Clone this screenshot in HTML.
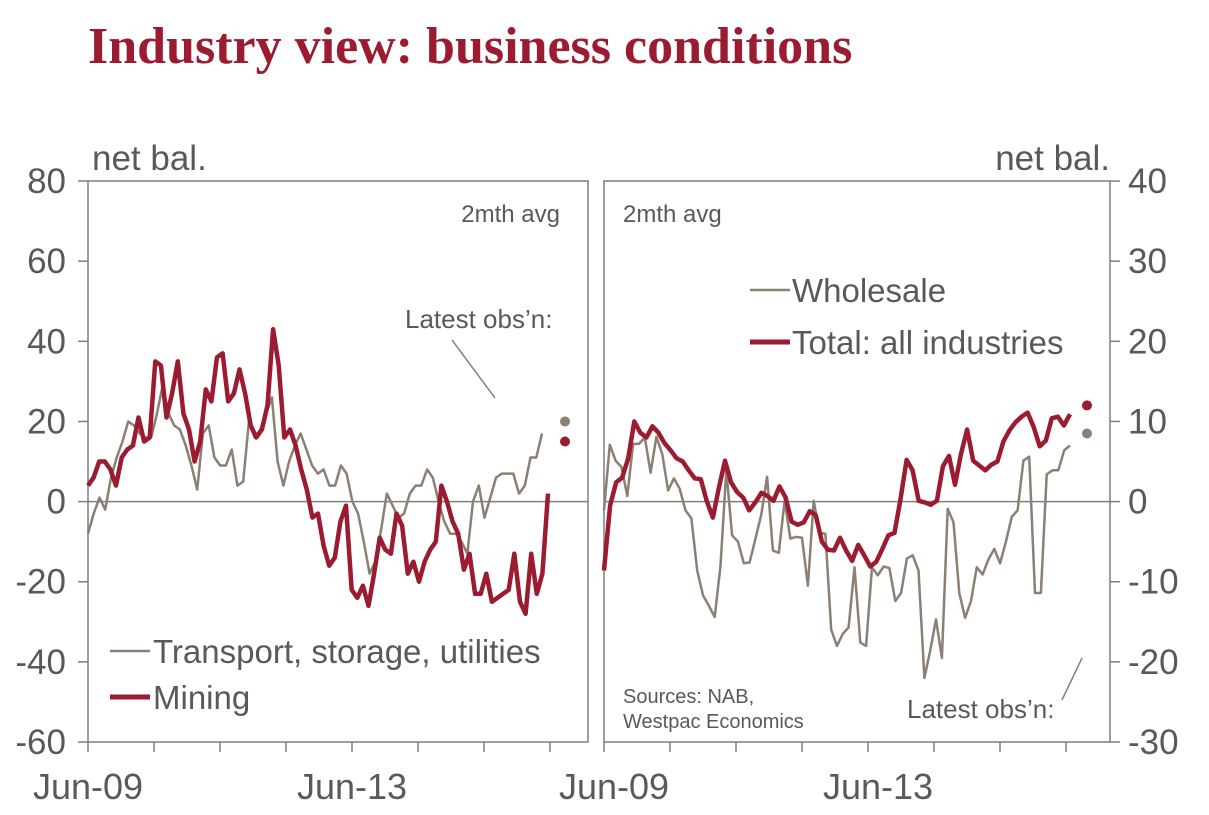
<!DOCTYPE html>
<html><head><meta charset="utf-8"><style>
body{margin:0;background:#fff;width:1209px;height:810px;overflow:hidden}
svg text{font-family:"Liberation Sans",sans-serif;fill:#595959}
</style></head><body>
<svg id="c" width="1209" height="810">
<text x="88" y="63" style="font-family:'Liberation Serif',serif;font-weight:bold;font-size:52px;fill:#9b1b30">Industry view: business conditions</text>
<text x="92" y="170" font-size="35">net bal.</text>
<text x="1110" y="170" font-size="35" text-anchor="end">net bal.</text>
<rect x="88" y="181" width="500" height="561" fill="none" stroke="#7f7f7f" stroke-width="1.5"/>
<rect x="604" y="181" width="506" height="561" fill="none" stroke="#7f7f7f" stroke-width="1.5"/>
<line x1="88" y1="501.6" x2="588" y2="501.6" stroke="#7f7f7f" stroke-width="1.5"/>
<line x1="604" y1="501.6" x2="1110" y2="501.6" stroke="#7f7f7f" stroke-width="1.5"/>
<text x="560" y="222" font-size="24" text-anchor="end">2mth avg</text>
<text x="623" y="222" font-size="24">2mth avg</text>
<text x="405" y="328" font-size="26">Latest obs’n:</text>
<line x1="452" y1="340" x2="495" y2="398" stroke="#8c7f73" stroke-width="1.5"/>
<text x="907" y="718" font-size="26">Latest obs’n:</text>
<line x1="1082" y1="658" x2="1062" y2="700" stroke="#8c7f73" stroke-width="1.5"/>
<text x="623" y="703" font-size="20">Sources: NAB,</text>
<text x="623" y="728" font-size="20">Westpac Economics</text>
<g>
<line x1="110" y1="651" x2="150" y2="651" stroke="#8c7f73" stroke-width="2.5"/>
<text x="153" y="663" font-size="33">Transport, storage, utilities</text>
<line x1="110" y1="697" x2="150" y2="697" stroke="#9b1b30" stroke-width="5"/>
<text x="153" y="709" font-size="33">Mining</text>
</g>
<g>
<line x1="750" y1="290" x2="790" y2="290" stroke="#8c7f73" stroke-width="2.5"/>
<text x="792" y="302" font-size="33">Wholesale</text>
<line x1="750" y1="342" x2="790" y2="342" stroke="#9b1b30" stroke-width="5"/>
<text x="792" y="354" font-size="33">Total: all industries</text>
</g>
<g id="axes"></g><g id="series"></g>
</svg>
<script>
const leftTicks=[80,60,40,20,0,-20,-40,-60];
const rightTicks=[40,30,20,10,0,-10,-20,-30];
const xLabels=["Jun-09","Jun-13"];
const mining=[4,6,10,10,8,4,11,13,14,21,15,16,35,34,21,27,35,22,18,10,15,28,25,36,37,25,27,33,27,19,16,18,24,43,34,16,18,14,8,3,-4,-3,-11,-16,-14,-5,-1,-22,-24,-21,-26,-18,-9,-12,-13,-3,-6,-18,-15,-20,-15,-12,-10,4,0,-5,-8,-17,-13,-23,-23,-18,-25,-24,-23,-22,-13,-25,-28,-13,-23,-18,2];
const transport=[-8,-3,1,-2,6,11,15,20,19,17,16,16,22,29,22,19,18,14,9,3,17,19,11,9,9,13,4,5,20,16,18,22,26,10,4,10,14,17,13,9,7,8,4,4,9,7,0,-3,-10,-18,-15,-7,2,-1,-4,-3,2,4,4,8,6,0,-5,-8,-8,-10,-13,0,4,-4,1,6,7,7,7,2,4,11,11,17];
const total=[-8.6,-0.5,2.4,3,5.4,10,8.6,8,9.4,8.6,7.3,6.4,5.4,5,3.9,2.9,2.8,0,-2,1.8,5.1,2.4,1.2,0.5,-1.1,-0.1,1.1,0.7,0.1,1.9,0.5,-2.5,-2.9,-2.6,-1.2,-1.7,-5,-6,-6.1,-4.5,-6.1,-7.4,-5.4,-6.7,-8.1,-7.5,-5.9,-4.2,-3.9,0.3,5.2,3.9,0.1,-0.1,-0.4,0.1,4.4,5.7,2.1,6,9,5.1,4.5,3.9,4.6,5,7.5,8.9,9.9,10.6,11.1,9.3,6.9,7.6,10.4,10.6,9.5,10.9];
const wholesale=[-1.1,7.1,5.1,4.3,0.7,7.2,7.2,8,3.6,8.1,5.9,1.4,2.9,1.6,-1.1,-2.1,-8.6,-11.7,-13,-14.4,-8,3.9,-4.2,-5,-7.7,-7.6,-4.6,-1.6,3.1,-6.1,-6.4,0.1,-4.6,-4.4,-4.5,-10.5,0.1,-3.9,-4,-16,-18,-16.5,-15.7,-8.2,-17.6,-18,-8.2,-9.2,-8.1,-8.3,-12.4,-11.4,-7.1,-6.7,-8.6,-22,-18.6,-14.7,-19.5,-0.9,-2.6,-11.4,-14.5,-12.4,-8.2,-9.1,-7.2,-5.9,-7.7,-5,-1.9,-1.1,5.1,5.6,-11.4,-11.4,3.4,3.9,3.9,6.4,7];
const latestLeft=[20,15];   // transport, mining
const latestRight=[12,8.5]; // total, wholesale
const NS="http://www.w3.org/2000/svg";
const yL=v=>501.6-(v)*4.007, yR=v=>501.6-(v)*8.014;
const ax=document.getElementById('axes'), se=document.getElementById('series');
function mk(tag,attrs,parent){const e=document.createElementNS(NS,tag);for(const k in attrs)e.setAttribute(k,attrs[k]);parent.appendChild(e);return e;}
leftTicks.forEach(t=>{
 const l=mk('line',{x1:78,x2:88,y1:yL(t),y2:yL(t),stroke:'#7f7f7f','stroke-width':1.5},ax);
 
 
 const tx=mk('text',{x:66,y:yL(t)+12,'font-size':35,'text-anchor':'end'},ax);tx.textContent=t;
 
 
});
rightTicks.forEach(t=>{
 const l=mk('line',{x1:1110,x2:1120,y1:yR(t),y2:yR(t),stroke:'#7f7f7f','stroke-width':1.5},ax);
 
 
 const tx=mk('text',{x:1128,y:yR(t)+12,'font-size':35},ax);tx.textContent=t;
 
 
});
const pxMonth=5.5;
[88,604].forEach((x0,p)=>{
 for(let y=0;y<=7;y++){const x=x0+y*12*pxMonth;if(x>(p?1110:588))break;
  const l=mk('line',{x1:x,x2:x,y1:742,y2:752,stroke:'#7f7f7f','stroke-width':1.5},ax);
  
  }
 xLabels.forEach((lab,i)=>{const tx=mk('text',{x:x0+i*48*pxMonth+(p?10:0),y:799,'font-size':36,'text-anchor':'middle'},ax);tx.textContent=lab;
  
  });
});
function line(vals,x0,x1,yf,color,w,name){
 const d=vals.map((v,i)=>(i?'L':'M')+(x0+i*(x1-x0)/(vals.length-1)).toFixed(1)+','+yf(v).toFixed(1)).join('');
 const p=mk('path',{d:d,fill:'none',stroke:color,'stroke-width':w,'stroke-linejoin':'round'},se);
 
 
}
line(transport,88,542,yL,'#8c7f73',2.5,'transport-line');
line(mining,88,548,yL,'#9b1b30',4.5,'mining-line');
line(wholesale,604,1070,yR,'#8c7f73',2.5,'wholesale-line');
line(total,604,1070,yR,'#9b1b30',4.5,'total-line');
const d1=mk('circle',{cx:565,cy:yL(latestLeft[0]),r:5,fill:'#8c7f73'},se);


const d2=mk('circle',{cx:565,cy:yL(latestLeft[1]),r:5,fill:'#9b1b30'},se);


const d3=mk('circle',{cx:1087,cy:yR(latestRight[0]),r:5,fill:'#9b1b30'},se);


const d4=mk('circle',{cx:1087,cy:yR(latestRight[1]),r:5,fill:'#8c7f73'},se);


</script>
</body></html>
